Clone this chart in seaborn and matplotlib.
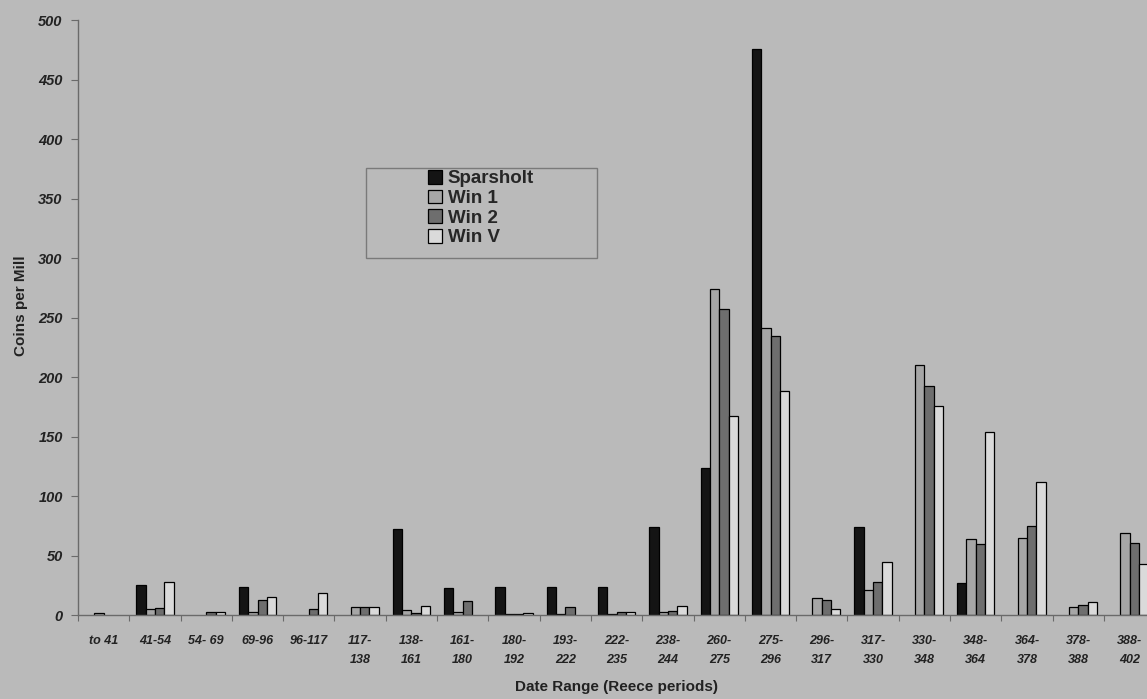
import numpy as np
import pandas as pd
import matplotlib
matplotlib.use("Agg")
import matplotlib.pyplot as plt
from matplotlib.patches import Rectangle
import seaborn as sns

# Reece coin periods and coins-per-mill for each site
periods = ["to 41", "41-54", "54- 69", "69-96", "96-117",
           "117-\n138", "138-\n161", "161-\n180", "180-\n192", "193-\n222",
           "222-\n235", "238-\n244", "260-\n275", "275-\n296", "296-\n317",
           "317-\n330", "330-\n348", "348-\n364", "364-\n378", "378-\n388",
           "388-\n402"]
sites = ["Sparsholt", "Win 1", "Win 2", "Win V"]

sparsholt = [None, 25, None, 24, None, None, 72, 23, 24, 24,
             24, 74, 124, 476, None, 74, None, 27, None, None, None]
win1 = [2, 5, None, 3, None, 7, 4, 3, 0.6, 0.6,
        0.6, 3, 274, 241, 14, 21, 210, 64, 65, 7, 69]
win2 = [None, 6, 2.5, 13, 5, 6.5, 2, 12, 0.6, 7,
        3, 3.5, 257, 235, 13, 28, 193, 60, 75, 8.5, 61]
win_v = [None, 28, 2.5, 15, 19, 6.5, 8, None, 2, None,
         2.5, 8, 167, 188, 5, 45, 176, 154, 112, 11, 43]

y_ticks = [0, 50, 100, 150, 200, 250, 300, 350, 400, 450, 500]

df = pd.DataFrame({
    "period": periods * len(sites),
    "site": np.repeat(sites, len(periods)),
    "value": pd.to_numeric(pd.Series(sparsholt + win1 + win2 + win_v), errors="coerce"),
})

bg = "#bababa"
palette = {"Sparsholt": "#141414", "Win 1": "#a6a6a6",
           "Win 2": "#6e6e6e", "Win V": "#dadada"}

sns.set_style("ticks")
plt.rcParams["font.family"] = ["Liberation Sans", "DejaVu Sans"]

fig = plt.figure(figsize=(11.47, 6.99), dpi=100, facecolor=bg)
ax = fig.add_axes([0.068, 0.12, 0.9392, 0.851], facecolor=bg)

sns.barplot(data=df, x="period", y="value", hue="site",
            order=periods, hue_order=sites, palette=palette,
            width=4 / 5.5, saturation=1, errorbar=None,
            edgecolor="black", linewidth=0.9, ax=ax)

ax.set_ylim(0, 500)
ax.set_xlim(-0.5, len(periods) - 0.5)
ax.set_yticks(y_ticks)
ax.set_yticklabels([str(v) for v in y_ticks], fontsize=10.5,
                   fontweight="bold", fontstyle="italic", color="#222222")

# category labels at centres, tick marks between categories
ax.set_xticks(range(len(periods)))
ax.set_xticklabels(periods, fontsize=9, fontweight="bold",
                   fontstyle="italic", color="#222222", linespacing=1.85,
                   va="top")
ax.set_xticks(np.arange(len(periods) + 1) - 0.5, minor=True)
ax.tick_params(axis="x", which="major", length=0, pad=14)
ax.tick_params(axis="x", which="minor", length=4, width=0.8,
               color="#6a6a6a", direction="out")
ax.tick_params(axis="y", length=5, width=0.8, color="#6a6a6a", pad=6)

for side in ("top", "right"):
    ax.spines[side].set_visible(False)
for side in ("left", "bottom"):
    ax.spines[side].set_color("#6a6a6a")
    ax.spines[side].set_linewidth(1.0)

ax.set_xlabel("Date Range (Reece periods)", fontsize=11,
              fontweight="bold", color="#222222")
ax.xaxis.set_label_coords(0.5, -0.121)
ax.xaxis.label.set_va("center")
ax.set_ylabel("Coins per Mill", fontsize=11, fontweight="bold",
              color="#222222")
ax.yaxis.set_label_coords(-0.053, 0.52)
ax.yaxis.label.set_va("center")

handles, labels = ax.get_legend_handles_labels()
ax.legend(handles, labels, loc="upper left",
          bbox_to_anchor=(0.373, 0.757), bbox_transform=fig.transFigure,
          frameon=False, borderpad=0, borderaxespad=0,
          handlelength=0.75, handleheight=0.75, handletextpad=0.3,
          labelspacing=0.12,
          prop={"family": ["Liberation Sans", "DejaVu Sans"],
                "weight": "bold", "size": 13.5})

# legend box
fig.patches.append(Rectangle((0.319, 0.631), 0.2014, 0.1288,
                             transform=fig.transFigure, fill=False,
                             edgecolor="#7a7a7a", linewidth=1.0))

fig.savefig("out.png", dpi=100, facecolor=bg)
